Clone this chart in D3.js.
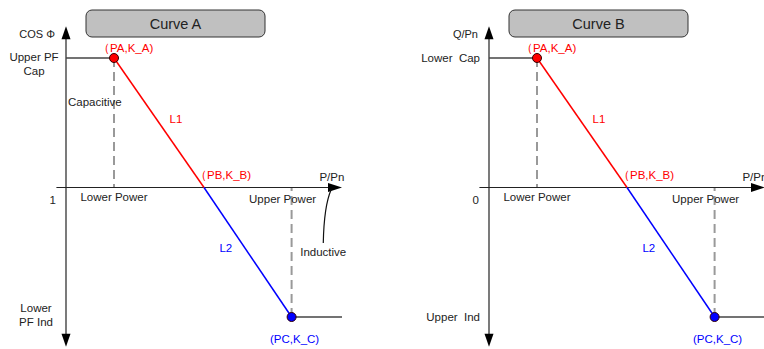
<!DOCTYPE html>
<html lang="en">
<head>
  <meta charset="UTF-8">
  <title>Curve A / Curve B</title>
  <script src="https://d3js.org/d3.v7.min.js"></script>
  <style>
    body { margin: 0; background: #fff; font-family: "Liberation Sans", Arial, sans-serif; }
    #chart { width: 764px; height: 349px; }
    svg text { white-space: pre; }
  </style>
</head>
<body>
  <div id="chart"></div>

  <script>
    // values
    const pointNames = ["\uFF08PA,K_A)", "\uFF08PB,K_B)", "(PC,K_C)"];
    const pointP = [0.2, 0.575, 0.94];      // PA, PB, PC  (P/Pn)
    const pointK = [1, 0, -1];              // K_A, K_B, K_C
    const pointColors = ["#ff0000", "#ff0000", "#0000ff"];
    const segmentNames = ["L1", "L2"];
    const panelTitles = ["Curve A", "Curve B"];
    const yAxisTitles = ["COS \u03A6", "Q/Pn"];
    const xAxisTitle = "P/Pn";
    const yTicksA = [["Upper PF", "Cap"], ["1"], ["Lower", "PF Ind"]];
    const yTicksB = [["Lower  Cap"], ["0"], ["Upper  Ind"]];
    const xTickLabels = ["Lower Power", "Upper Power"];
    const regionLabels = ["Capacitive", "Inductive"];

    const width = 764, height = 349;
    const svg = d3.select("#chart").append("svg")
      .attr("width", width)
      .attr("height", height)
      .style("font-family", "'Liberation Sans', Arial, sans-serif");

    const x = d3.scaleLinear().domain([0, 1]).range([0, 240]);
    const y = d3.scaleLinear().domain([-1, 1]).range([317, 58]);

    function drawPanel(idx, left, yTicks, showRegions) {
      const g = svg.append("g").attr("transform", `translate(${left},0)`);
      const pts = pointP.map((p, i) => ({ p: p, k: pointK[i], name: pointNames[i], color: pointColors[i] }));

      // title box
      g.append("rect")
        .attr("x", 20).attr("y", 10).attr("width", 179).attr("height", 27)
        .attr("rx", 6)
        .attr("fill", "#c0c0c0").attr("stroke", "#333").attr("stroke-width", 1);
      g.append("text")
        .attr("x", 109.5).attr("y", 29)
        .attr("text-anchor", "middle")
        .attr("font-size", "14.5px").attr("fill", "#222")
        .text(panelTitles[idx]);

      // dashed guides at Lower / Upper power
      [pts[0], pts[2]].forEach(d => {
        g.append("line")
          .attr("x1", x(d.p)).attr("x2", x(d.p))
          .attr("y1", y(d.k)).attr("y2", y(0))
          .attr("stroke", "#999").attr("stroke-width", 2)
          .attr("stroke-dasharray", "9,5");
      });

      // axes
      g.append("line")
        .attr("x1", x(0)).attr("x2", x(0))
        .attr("y1", y(1.18)).attr("y2", y(-1.14))
        .attr("stroke", "#222").attr("stroke-width", 1.2);
      g.append("line")
        .attr("x1", x(-0.04)).attr("x2", x(1.1))
        .attr("y1", y(0)).attr("y2", y(0))
        .attr("stroke", "#222").attr("stroke-width", 1.2);
      // arrow heads
      const up = y(1.245), down = y(-1.23), right = x(1.15);
      g.append("path")
        .attr("d", `M${x(0)},${up} L${x(0) - 4.5},${up + 13} L${x(0) + 4.5},${up + 13} Z`)
        .attr("fill", "#000");
      g.append("path")
        .attr("d", `M${x(0)},${down} L${x(0) - 4.5},${down - 13} L${x(0) + 4.5},${down - 13} Z`)
        .attr("fill", "#000");
      g.append("path")
        .attr("d", `M${right},${y(0)} L${right - 14},${y(0) - 4.5} L${right - 14},${y(0) + 4.5} Z`)
        .attr("fill", "#000");

      // flat limits
      g.append("line")
        .attr("x1", x(0)).attr("x2", x(pts[0].p))
        .attr("y1", y(pts[0].k)).attr("y2", y(pts[0].k))
        .attr("stroke", "#444").attr("stroke-width", 1.5);
      g.append("line")
        .attr("x1", x(pts[2].p)).attr("x2", x(1.15))
        .attr("y1", y(pts[2].k)).attr("y2", y(pts[2].k))
        .attr("stroke", "#444").attr("stroke-width", 1.5);

      // L1 and L2
      const line = d3.line().x(d => x(d.p)).y(d => y(d.k));
      g.append("path").datum([pts[0], pts[1]]).attr("d", line)
        .attr("fill", "none").attr("stroke", "#ff0000").attr("stroke-width", 1.5);
      g.append("path").datum([pts[1], pts[2]]).attr("d", line)
        .attr("fill", "none").attr("stroke", "#0000ff").attr("stroke-width", 1.5);

      // end points
      g.selectAll("circle.pt").data([pts[0], pts[2]]).enter().append("circle")
        .attr("cx", d => x(d.p)).attr("cy", d => y(d.k)).attr("r", 4.5)
        .attr("fill", d => d.color).attr("stroke", "#300").attr("stroke-width", 1);

      // point labels
      const fs = "11.5px";
      g.append("text").attr("x", x(pts[0].p) - 16).attr("y", y(pts[0].k) - 6)
        .attr("font-size", fs).attr("fill", "#ff0000").text(pts[0].name);
      g.append("text").attr("x", x(pts[1].p) - 9).attr("y", y(pts[1].k) - 9)
        .attr("font-size", fs).attr("fill", "#ff0000").text(pts[1].name);
      g.append("text").attr("x", x(pts[2].p) + 3).attr("y", y(pts[2].k) + 26)
        .attr("text-anchor", "middle")
        .attr("font-size", fs).attr("fill", "#0000ff").text(pts[2].name);

      // segment labels
      g.append("text")
        .attr("x", (x(pts[0].p) + x(pts[1].p)) / 2 + 17)
        .attr("y", (y(pts[0].k) + y(pts[1].k)) / 2 + 0)
        .attr("text-anchor", "middle").attr("font-size", fs).attr("fill", "#ff0000")
        .text(segmentNames[0]);
      g.append("text")
        .attr("x", (x(pts[1].p) + x(pts[2].p)) / 2 - 22)
        .attr("y", (y(pts[1].k) + y(pts[2].k)) / 2 + 0)
        .attr("text-anchor", "middle").attr("font-size", fs).attr("fill", "#0000ff")
        .text(segmentNames[1]);

      // x tick labels
      g.append("text").attr("x", x(pts[0].p)).attr("y", y(0) + 13)
        .attr("text-anchor", "middle").attr("font-size", fs).attr("fill", "#222")
        .text(xTickLabels[0]);
      g.append("text").attr("x", x(pts[2].p) - 9).attr("y", y(0) + 15)
        .attr("text-anchor", "middle").attr("font-size", fs).attr("fill", "#222")
        .text(xTickLabels[1]);

      // axis titles
      g.append("text").attr("x", x(1.056)).attr("y", y(0) - 7)
        .attr("font-size", fs).attr("fill", "#222").text(xAxisTitle);
      g.append("text").attr("x", x(0) - 11).attr("y", 38)
        .attr("text-anchor", "end").attr("font-size", "11px").attr("fill", "#222")
        .text(yAxisTitles[idx]);

      // y tick labels
      const tickK = [1, 0, -1];
      yTicks.forEach((lines, i) => {
        const t = g.append("text")
          .attr("font-size", fs).attr("fill", "#222");
        if (lines.length === 2) {
          const cx = i === 0 ? x(0) - 32 : x(0) - 30;
          const y0 = i === 0 ? y(tickK[i]) + 3 : y(tickK[i]) - 5;
          t.attr("text-anchor", "middle");
          lines.forEach((s, j) => {
            t.append("tspan").attr("x", cx).attr("y", y0 + j * 14).text(s);
          });
        } else {
          const dy = tickK[i] === 0 ? 16 : 4;
          t.attr("text-anchor", "end")
            .attr("x", x(0) - (tickK[i] === 0 ? 10 : 9))
            .attr("y", y(tickK[i]) + dy)
            .text(lines[0]);
        }
      });

      if (showRegions) {
        g.append("text").attr("x", x(0) + 2).attr("y", 106)
          .attr("font-size", fs).attr("fill", "#222").text(regionLabels[0]);
        g.append("text").attr("x", x(0.976)).attr("y", 256)
          .attr("font-size", fs).attr("fill", "#222").text(regionLabels[1]);
        // curved pointer to the inductive side
        const p = d3.path();
        p.moveTo(x(1.072), 243);
        p.quadraticCurveTo(x(1.075), 206, x(1.105), y(0) + 2);
        g.append("path").attr("d", p.toString())
          .attr("fill", "none").attr("stroke", "#111").attr("stroke-width", 1.2);
      }
    }

    drawPanel(0, 66, yTicksA, true);
    drawPanel(1, 489, yTicksB, false);
  </script>
</body>
</html>
